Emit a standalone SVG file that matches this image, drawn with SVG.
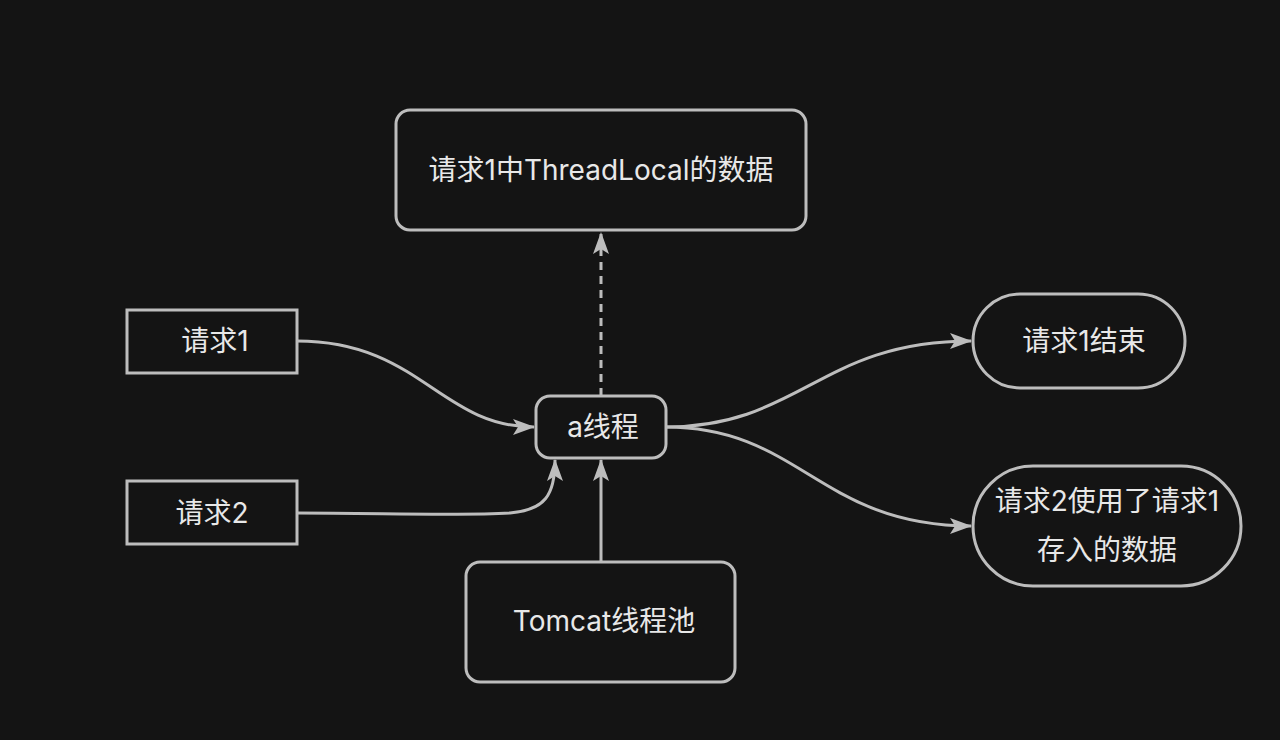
<svg xmlns="http://www.w3.org/2000/svg" width="1280" height="740" viewBox="0 0 1280 740">
<defs>
<style>
.box{fill:#141414;stroke:#bdbdbd;stroke-width:3}
.lbl{fill:#e8e8e8;font-family:"Inter","Noto Sans CJK SC",sans-serif;font-size:28px;text-anchor:middle;dominant-baseline:central}
.edge{fill:none;stroke:#bdbdbd;stroke-width:3}
</style>
<marker id="arr" viewBox="0 0 22 16" refX="21" refY="8" markerWidth="22" markerHeight="16" markerUnits="userSpaceOnUse" orient="auto">
<path d="M0,0 L22,8 L0,16 L5,8 Z" fill="#bdbdbd"/>
</marker>
</defs>
<rect width="1280" height="740" fill="#141414"/>
<g id="connectors">
<path class="edge" d="M297,341 C420,341 440,427 534,427" marker-end="url(#arr)"/>
<path class="edge" d="M297,513 C380,513 460,516 510,513 C545,510 555,495 555,460" marker-end="url(#arr)"/>
<path class="edge" d="M601,562 L601,460" marker-end="url(#arr)"/>
<path class="edge" d="M601,396 L601,233" stroke-dasharray="8,6" marker-end="url(#arr)"/>
<path class="edge" d="M666,427 C800,427 820,341 971,341" marker-end="url(#arr)"/>
<path class="edge" d="M666,427 C800,427 820,526 971,526" marker-end="url(#arr)"/>
</g>
<g id="node-threadlocal">
<rect class="box" x="396" y="110" width="410" height="120" rx="14"/>
<text class="lbl" x="601" y="170">请求1中ThreadLocal的数据</text>
</g>
<g id="node-req1">
<rect class="box" x="127" y="310" width="170" height="63"/>
<text class="lbl" x="215" y="341">请求1</text>
</g>
<g id="node-req2">
<rect class="box" x="127" y="481" width="170" height="63"/>
<text class="lbl" x="212" y="513">请求2</text>
</g>
<g id="node-thread-a">
<rect class="box" x="536" y="396" width="130" height="62" rx="14"/>
<text class="lbl" x="603" y="427">a线程</text>
</g>
<g id="node-req1-end">
<rect class="box" x="973" y="294" width="212" height="94" rx="47"/>
<text class="lbl" x="1084" y="341">请求1结束</text>
</g>
<g id="node-req2-use">
<rect class="box" x="973" y="466" width="268" height="120" rx="60"/>
<text class="lbl" x="1107" y="501">请求2使用了请求1</text>
<text class="lbl" x="1107" y="550">存入的数据</text>
</g>
<g id="node-tomcat">
<rect class="box" x="466" y="562" width="269" height="120" rx="14"/>
<text class="lbl" x="604" y="621">Tomcat线程池</text>
</g>
</svg>
